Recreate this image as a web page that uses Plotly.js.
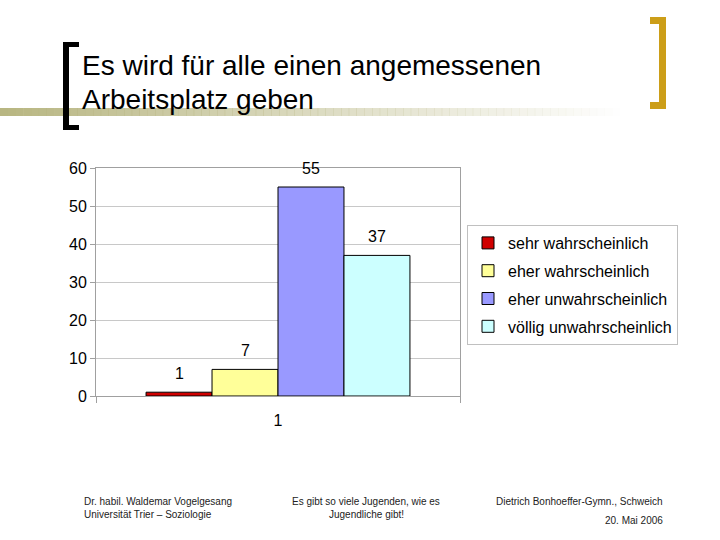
<!DOCTYPE html>
<html>
<head>
<meta charset="utf-8">
<script src="https://cdn.plot.ly/plotly-3.0.1.min.js"></script>
<style>
html,body{margin:0;padding:0;background:#fff;}
#chart{width:720px;height:540px;}
</style>
</head>
<body>
<div id="chart"></div>
<script>
// ---- data ----
const categories = ['1'];
const seriesNames = ['sehr wahrscheinlich', 'eher wahrscheinlich', 'eher unwahrscheinlich', 'völlig unwahrscheinlich'];
const seriesValues = [[1], [7], [55], [37]];
const seriesColors = ['#D00000', '#FFFF99', '#9999FF', '#CCFFFF'];
const yTicks = [0, 10, 20, 30, 40, 50, 60];
const titleLines = ['Es wird für alle einen angemessenen', 'Arbeitsplatz geben'];
const footerLeft = ['Dr. habil. Waldemar Vogelgesang', 'Universität Trier – Soziologie'];
const footerCenter = ['Es gibt so viele Jugenden, wie es', 'Jugendliche gibt!'];
const footerRight = ['Dietrich Bonhoeffer-Gymn., Schweich', '20. Mai 2006'];

// ---- layout helpers (pixel -> paper) ----
const W = 720, H = 540;
const M = {l: 96, r: 260, t: 168, b: 144};
const PW = W - M.l - M.r, PH = H - M.t - M.b;
const px = x => (x - M.l) / PW;
const py = y => (H - M.b - y) / PH;
const FONT = 'Liberation Sans, Arial, sans-serif';
const BARGAP = 0.275;

const traces = seriesNames.map((n, i) => ({
  type: 'bar',
  name: n,
  x: categories,
  y: seriesValues[i],
  marker: {color: seriesColors[i], line: {color: '#000', width: 1}},
  legendgroup: 'g' + i,
  hoverinfo: 'skip'
}));

const shapes = [];
// gradient band under the title
const NSEG = 80, gx0 = 0, gx1 = 620;
for (let k = 0; k < NSEG; k++) {
  const a = 1 - k / NSEG;
  shapes.push({type: 'rect', xref: 'paper', yref: 'paper', layer: 'below',
    x0: px(gx0 + (gx1 - gx0) * k / NSEG), x1: px(gx0 + (gx1 - gx0) * (k + 1) / NSEG + 0.5),
    y0: py(116), y1: py(108), line: {width: 0},
    fillcolor: `rgba(184,182,130,${a.toFixed(3)})`});
}
// black bracket (left)
const blk = '#000000';
[[63, 42, 69, 130], [63, 42, 79, 47], [63, 125, 79, 130]].forEach(r => shapes.push({
  type: 'rect', xref: 'paper', yref: 'paper', layer: 'above',
  x0: px(r[0]), x1: px(r[2]), y0: py(r[3]), y1: py(r[1]), line: {width: 0}, fillcolor: blk}));
// gold bracket (right)
const gold = '#CC9E18';
[[659, 17, 666, 109], [650, 17, 666, 24], [650, 102, 666, 109]].forEach(r => shapes.push({
  type: 'rect', xref: 'paper', yref: 'paper', layer: 'above',
  x0: px(r[0]), x1: px(r[2]), y0: py(r[3]), y1: py(r[1]), line: {width: 0}, fillcolor: gold}));

const annotations = [];
// value labels above bars (category index + value on the axes, shifted by bar slot)
const nS = seriesNames.length;
const barW = PW / categories.length * (1 - BARGAP) / nS;
seriesValues.forEach((vals, i) => vals.forEach((v, j) => annotations.push({
  text: String(v), xref: 'x', yref: 'y', x: j, y: v,
  xshift: (i - (nS - 1) / 2) * barW, yshift: 19,
  xanchor: 'center', yanchor: 'middle', showarrow: false,
  font: {family: FONT, size: 16, color: '#000'}})));
// title
titleLines.forEach((t, i) => annotations.push({
  text: t, xref: 'paper', yref: 'paper', x: px(80), y: py(66 + 33 * i),
  xanchor: 'left', yanchor: 'middle', showarrow: false,
  font: {family: FONT, size: 28, color: '#000'}}));
// footers
const ff = {family: FONT, size: 10, color: '#222'};
footerLeft.forEach((t, i) => annotations.push({text: t, xref: 'paper', yref: 'paper',
  x: px(82), y: py(501 + 13 * i), xanchor: 'left', yanchor: 'middle', showarrow: false, font: ff}));
footerCenter.forEach((t, i) => annotations.push({text: t, xref: 'paper', yref: 'paper',
  x: px(366), y: py(501 + 13 * i), xanchor: 'center', yanchor: 'middle', showarrow: false, font: ff}));
footerRight.forEach((t, i) => annotations.push({text: t, xref: 'paper', yref: 'paper',
  x: px(665), y: py(501 + 19 * i), xanchor: 'right', yanchor: 'middle', showarrow: false, font: ff}));

const layout = {
  width: W, height: H,
  margin: M,
  paper_bgcolor: '#ffffff',
  plot_bgcolor: '#ffffff',
  font: {family: FONT, size: 16, color: '#000'},
  showlegend: true,
  barmode: 'group',
  bargap: BARGAP,
  bargroupgap: 0,
  xaxis: {
    type: 'category', categoryorder: 'array', categoryarray: categories,
    range: [-0.5, categories.length - 0.5],
    showgrid: false, zeroline: false,
    showline: true, linecolor: '#a0a0a0', linewidth: 1, mirror: true,
    ticks: 'outside', tickson: 'boundaries', ticklen: 6, tickcolor: '#a0a0a0',
    tickfont: {family: FONT, size: 16, color: '#000'}, ticklabelstandoff: 10
  },
  yaxis: {
    range: [0, 60], tickvals: yTicks, showgrid: true, gridcolor: '#c8c8c8', gridwidth: 1,
    zeroline: false, showline: true, linecolor: '#a0a0a0', linewidth: 1, mirror: true,
    ticks: 'outside', ticklen: 5, tickcolor: '#a0a0a0',
    tickfont: {family: FONT, size: 16, color: '#000'}
  },
  legend: {
    x: px(467), y: py(225), xanchor: 'left', yanchor: 'top',
    bordercolor: '#c0c0c0', borderwidth: 1, bgcolor: '#fff',
    font: {family: FONT, size: 16, color: '#000'},
    traceorder: 'grouped', tracegroupgap: 4, itemwidth: 30
  },
  shapes: shapes,
  annotations: annotations
};

Plotly.newPlot('chart', traces, layout, {displayModeBar: false, staticPlot: true});
</script>
</body>
</html>
